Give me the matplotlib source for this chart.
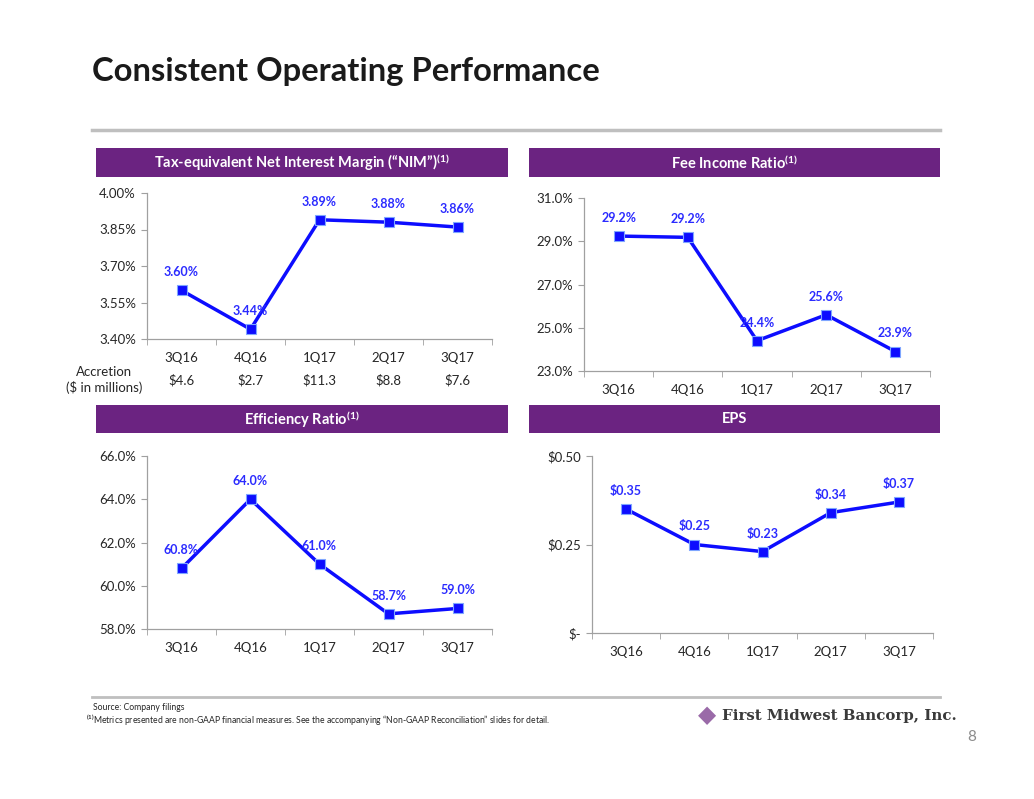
import matplotlib
matplotlib.use("Agg")
import matplotlib.pyplot as plt
from matplotlib.patches import Rectangle
from matplotlib.lines import Line2D

plt.rcParams['font.family'] = ['Lato', 'DejaVu Sans']
plt.rcParams['mathtext.fontset'] = 'custom'
plt.rcParams['mathtext.rm'] = 'Lato:bold'
plt.rcParams['mathtext.default'] = 'rm'

# dati
quarters = ["3Q16", "4Q16", "1Q17", "2Q17", "3Q17"]
nim = [3.60, 3.44, 3.89, 3.88, 3.86]
accretion = ["$4.6", "$2.7", "$11.3", "$8.8", "$7.6"]
fee_ratio = [29.24, 29.18, 24.4, 25.6, 23.9]
eff_ratio = [60.8, 64.0, 61.0, 58.7, 58.95]
eps = [0.35, 0.25, 0.23, 0.34, 0.37]

nim_ticks = [3.40, 3.55, 3.70, 3.85, 4.00]
fee_ticks = [23.0, 25.0, 27.0, 29.0, 31.0]
eff_ticks = [58.0, 60.0, 62.0, 64.0, 66.0]
eps_ticks = [0.0, 0.25, 0.50]

W, H = 1034, 799
PURPLE = "#6b2381"
BLUE = "#0d0dff"
LBLUE = "#2b2bff"
GRAY = "#a0a0a0"
TXT = "#262626"

fig = plt.figure(figsize=(W / 100, H / 100), dpi=100)


def fx(px):
    return px / W


def fy(py):
    return 1 - py / H


# titolo e linee grigie
fig.text(fx(92), fy(72), "Consistent Operating Performance", fontsize=23.6, fontweight="bold",
         color="#1a1a1a", va="center", ha="left")
fig.add_artist(Line2D([fx(92), fx(940)], [fy(130), fy(130)], color="#bfbfbf", lw=2.5))
fig.add_artist(Line2D([fx(92), fx(940)], [fy(697), fy(697)], color="#bfbfbf", lw=2))


def header(x0, x1, y0, y1, label):
    fig.add_artist(Rectangle((fx(x0), fy(y1)), fx(x1 - x0), (y1 - y0) / H,
                             facecolor=PURPLE, edgecolor="none"))
    fig.text(fx((x0 + x1) / 2), fy((y0 + y1) / 2), label, color="white", fontsize=10.5,
             fontweight="bold", ha="center", va="center")


header(96, 508, 148, 177, "Tax-equivalent Net Interest Margin (\u201cNIM\u201d)$^{(1)}$")
header(529, 940, 148, 177, "Fee Income Ratio$^{(1)}$")
header(96, 508, 405, 433, "Efficiency Ratio$^{(1)}$")
header(529, 940, 405, 433, "EPS")


def chart(x0, x1, ytop, ybot, values, ticks, tickfmt, labelfmt, offset=13):
    ax = fig.add_axes([fx(x0), fy(ybot), (x1 - x0) / W, (ybot - ytop) / H])
    xs = range(len(quarters))
    ax.plot(xs, values, color=BLUE, lw=2.5, marker="s", markersize=7.5,
            markerfacecolor=BLUE, markeredgecolor="#7fa6ff", markeredgewidth=0.8, zorder=3)
    for i, v in enumerate(values):
        ax.annotate(labelfmt(v), (i, v), xytext=(0, offset), textcoords="offset points",
                    ha="center", va="center", color=LBLUE, fontsize=9, fontweight="bold", zorder=4)
    ax.set_xlim(-0.5, len(quarters) - 0.5)
    ax.set_ylim(ticks[0], ticks[-1])
    ax.set_yticks(ticks)
    ax.set_yticklabels([tickfmt(t) for t in ticks])
    ax.set_xticks(list(xs))
    ax.set_xticklabels(quarters)
    ax.set_xticks([i - 0.5 for i in range(len(quarters) + 1)], minor=True)
    ax.tick_params(axis="x", which="major", length=0, pad=9, labelsize=9.5, labelcolor=TXT)
    ax.tick_params(axis="x", which="minor", length=4, color=GRAY, direction="out")
    ax.tick_params(axis="y", length=4, color=GRAY, labelsize=9.5, labelcolor=TXT, pad=4)
    for s in ["top", "right"]:
        ax.spines[s].set_visible(False)
    for s in ["left", "bottom"]:
        ax.spines[s].set_color(GRAY)
        ax.spines[s].set_linewidth(0.9)
    ax.set_facecolor("none")
    return ax


chart(147, 492, 193, 339, nim, nim_ticks, lambda t: f"{t:.2f}%", lambda v: f"{v:.2f}%")
chart(584, 930, 198, 371, fee_ratio, fee_ticks, lambda t: f"{t:.1f}%", lambda v: f"{v:.1f}%")
chart(147, 492, 456, 629, eff_ratio, eff_ticks, lambda t: f"{t:.1f}%", lambda v: f"{v:.1f}%")
chart(592, 933, 456, 633, eps, eps_ticks, lambda t: "$-" if t == 0 else f"${t:.2f}",
      lambda v: f"${v:.2f}")

# riga accretion sotto il grafico NIM
fig.text(fx(104), fy(380), "Accretion\n($ in millions)", ha="center", va="center",
         fontsize=9.5, color=TXT, linespacing=1.3)
for i, a in enumerate(accretion):
    fig.text(fx(147 + 69 * (i + 0.5)), fy(380), a, ha="center", va="center", fontsize=9.5, color=TXT)

# note a piè di pagina
fig.text(fx(93), fy(708), "Source: Company filings", fontsize=6.2, color=TXT, va="center")
fig.text(fx(86), fy(720), "$^{(1)}$Metrics presented are non-GAAP financial measures. See the accompanying "
         "\u201cNon-GAAP Reconciliation\u201d slides for detail.", fontsize=6.2, color=TXT, va="center")
fig.text(fx(722), fy(716), "First Midwest Bancorp, Inc.", family="DejaVu Serif", fontsize=10.8,
         fontweight="bold", color="#3a3a3a", va="center")
fig.text(fx(707), fy(716), "\u25c6", fontsize=17, color="#9a6aa8", va="center", ha="center")
fig.text(fx(972), fy(737), "8", fontsize=11, color="#8c8c8c", va="center", ha="center")

fig.savefig("out.png", dpi=100)
